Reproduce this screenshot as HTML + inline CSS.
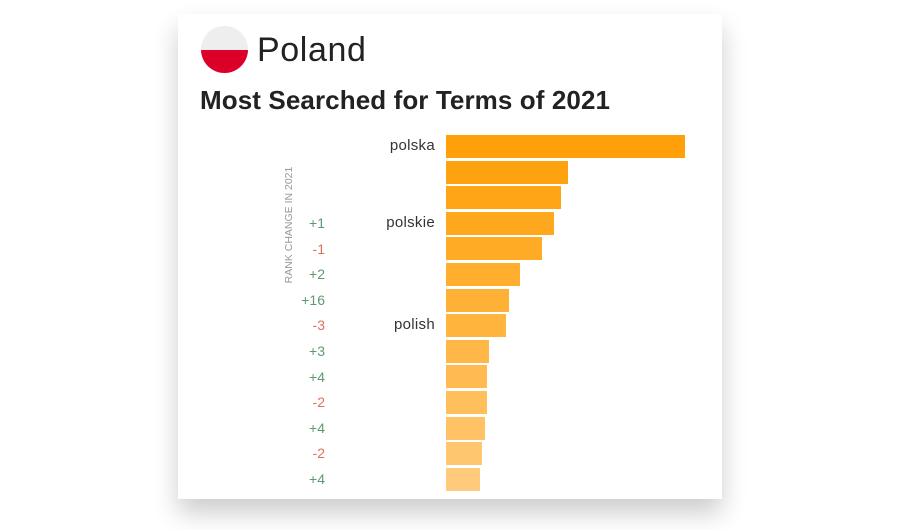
<!DOCTYPE html>
<html><head><style>
body{margin:0;width:900px;height:530px;background:#fff;position:relative;overflow:hidden;font-family:"Liberation Sans",sans-serif}
.card{position:absolute;left:178px;top:14px;width:544px;height:485px;background:#fff;box-shadow:0 14px 24px rgba(0,0,0,0.2)}
.flag{position:absolute;left:201px;top:26px;width:47px;height:47px;border-radius:50%;overflow:hidden;background:#eeeeee}
.flag div{position:absolute;left:0;top:24px;width:47px;height:23px;background:#dc0028}
.t1{position:absolute;left:257px;top:30px;font-size:34px;color:#222;line-height:40px;letter-spacing:0.6px}
.t2{position:absolute;left:200px;top:84px;font-size:26px;font-weight:bold;color:#222;line-height:32px;letter-spacing:0.1px}
.bar{position:absolute;left:446px;height:23px}
.lab{position:absolute;right:465px;font-size:15px;color:#333;line-height:20px;letter-spacing:0.3px}
.rc{position:absolute;right:575px;font-size:14px;line-height:20px}
.g{color:#5e9a6e}.r{color:#e0705e}
.rot{position:absolute;left:289px;top:225px;transform:translate(-50%,-50%) rotate(-90deg);font-size:10.5px;color:#999;white-space:nowrap}
</style></head><body>
<div class="card"></div>
<div class="flag"><div></div></div>
<div class="t1">Poland</div>
<div class="t2">Most Searched for Terms of 2021</div>
<div class="rot">RANK CHANGE IN 2021</div>
<div class="bar" style="top:135px;width:239px;background:#ff9f0a"></div>
<div class="bar" style="top:160.6px;width:122px;background:#ffa210"></div>
<div class="bar" style="top:186.2px;width:115px;background:#ffa516"></div>
<div class="bar" style="top:211.8px;width:108px;background:#ffa81d"></div>
<div class="bar" style="top:237.4px;width:96px;background:#ffab25"></div>
<div class="bar" style="top:263px;width:74px;background:#ffae2d"></div>
<div class="bar" style="top:288.6px;width:63px;background:#ffb135"></div>
<div class="bar" style="top:314.2px;width:60px;background:#ffb43e"></div>
<div class="bar" style="top:339.8px;width:43px;background:#ffb847"></div>
<div class="bar" style="top:365.4px;width:41px;background:#ffbb51"></div>
<div class="bar" style="top:391px;width:41px;background:#ffbf5b"></div>
<div class="bar" style="top:416.6px;width:39px;background:#ffc265"></div>
<div class="bar" style="top:442.2px;width:36px;background:#ffc670"></div>
<div class="bar" style="top:467.8px;width:34px;background:#ffca7b"></div>
<div class="lab" style="top:136px">polska</div>
<div class="lab" style="top:213px">polskie</div>
<div class="lab" style="top:315px">polish</div>
<div class="rc g" style="top:213px">+1</div>
<div class="rc r" style="top:239px">-1</div>
<div class="rc g" style="top:264px">+2</div>
<div class="rc g" style="top:290px">+16</div>
<div class="rc r" style="top:315px">-3</div>
<div class="rc g" style="top:341px">+3</div>
<div class="rc g" style="top:367px">+4</div>
<div class="rc r" style="top:392px">-2</div>
<div class="rc g" style="top:418px">+4</div>
<div class="rc r" style="top:443px">-2</div>
<div class="rc g" style="top:469px">+4</div>
</body></html>
